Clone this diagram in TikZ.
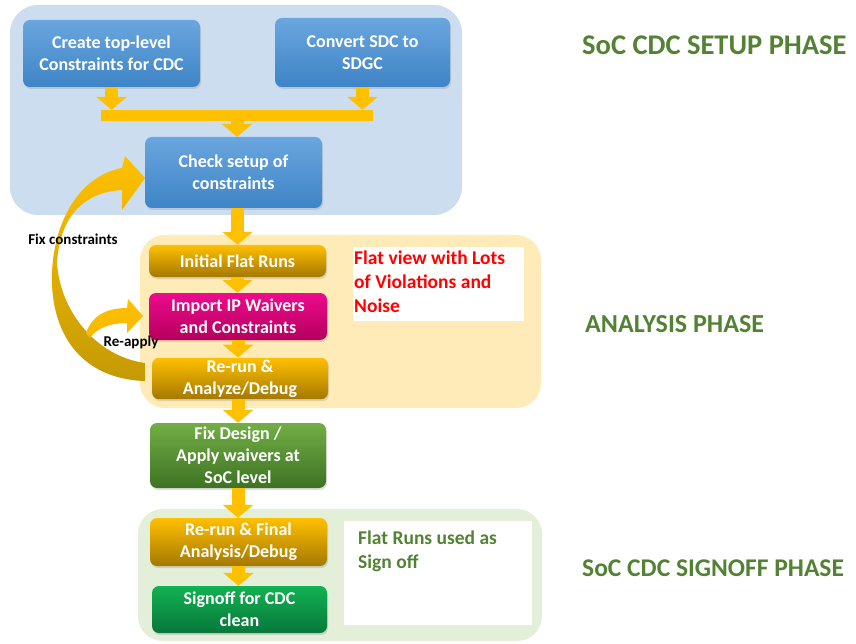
\documentclass[tikz,border=0pt]{standalone}
\usepackage{fontspec}
\setmainfont{Carlito}
\usepackage{xcolor}
\usetikzlibrary{arrows.meta,shadows}

\definecolor{setupbg}{HTML}{CCDDEF}
\definecolor{analysisbg}{HTML}{FFEBB7}
\definecolor{signoffbg}{HTML}{E3EFD8}
\definecolor{blueA}{HTML}{6AA6DF}
\definecolor{blueB}{HTML}{3E84C6}
\definecolor{goldA}{HTML}{FFC000}
\definecolor{goldB}{HTML}{A47800}
\definecolor{pinkA}{HTML}{EE0A8E}
\definecolor{pinkB}{HTML}{B4005C}
\definecolor{leafA}{HTML}{72AE45}
\definecolor{leafB}{HTML}{3D7223}
\definecolor{signA}{HTML}{12B252}
\definecolor{signB}{HTML}{08773A}
\definecolor{arrowgold}{HTML}{FFC000}
\definecolor{loopdark}{HTML}{C49A04}
\definecolor{phasegreen}{HTML}{548235}
\definecolor{notered}{HTML}{FF0000}

\newcommand{\blockfont}{\fontsize{18}{22}\selectfont\bfseries}
\newcommand{\notefont}{\fontsize{19.5}{24}\selectfont\bfseries}
\newcommand{\phasefont}[1]{\fontsize{#1}{32}\selectfont\bfseries}
\newcommand{\loopfont}{\fontsize{15}{17}\selectfont\bfseries}

\begin{document}
\begin{tikzpicture}[x=1pt, y=-1pt,
    block/.style={rounded corners=7pt, minimum width=177pt, align=center, text=white,
                  font=\blockfont, inner sep=2pt,
                  drop shadow={shadow xshift=1pt, shadow yshift=-2pt, opacity=0.25}},
    blueblock/.style={block, top color=blueA, bottom color=blueB},
    goldblock/.style={block, top color=goldA, middle color=goldA, bottom color=goldB},
    pinkblock/.style={block, top color=pinkA, bottom color=pinkB},
    leafblock/.style={block, top color=leafA, bottom color=leafB},
    signblock/.style={block, top color=signA, bottom color=signB},
    flowarrow/.style={draw=arrowgold, line width=13pt, -{Triangle[width=30pt,length=13pt]}},
    notebox/.style={fill=white, anchor=north west, inner sep=0pt},
    notetext/.style={anchor=north west, align=left, font=\notefont, inner sep=0pt},
    phase/.style={anchor=west, text=phasegreen, font=\phasefont{#1}, inner sep=0pt},
    looplabel/.style={font=\loopfont, inner sep=0pt}]
    \useasboundingbox (0,0) rectangle (856,644);

    % phase panels
    \fill[setupbg, rounded corners=28pt] (10,5) rectangle (462,215);
    \fill[analysisbg, rounded corners=25pt] (140,235) rectangle (541,408);
    \fill[signoffbg, rounded corners=25pt] (138,509) rectangle (542,641);

    % loop back arrows
    \shade[top color=arrowgold, bottom color=loopdark]
        (145,381) .. controls (80,379) and (50,332) .. (52,273)
        .. controls (54,220) and (80,176) .. (122,168)
        -- (125,156) -- (145,178) -- (122,210) -- (122,190)
        .. controls (85,192) and (60,215) .. (57,263)
        .. controls (60,310) and (95,356) .. (145,363) -- cycle;
    \shade[top color=arrowgold, bottom color=arrowgold!80!loopdark]
        (86,333) .. controls (92,316) and (106,308) .. (127,308)
        -- (128,299) -- (143,316) -- (127,333) -- (127,323)
        .. controls (110,323) and (97,328) .. (90,338) -- cycle;

    % merge bar
    \node[fill=arrowgold, minimum width=272pt, minimum height=11pt, inner sep=0pt] (merge) at (237,115.5) {};

    % steps
    \node[blueblock, minimum height=67pt] (create) at (111.5,53.5) {Create top-level\\Constraints for CDC};
    \node[blueblock, minimum width=175pt, minimum height=69pt] (convert) at (362.5,52.5) {Convert SDC to\\SDGC};
    \node[blueblock, minimum height=71pt] (check) at (233.5,172.5) {Check setup of\\constraints};
    \node[goldblock, minimum height=32pt] (initial) at (237.5,261) {Initial Flat Runs};
    \node[pinkblock, minimum width=178pt, minimum height=47pt] (import) at (238,316.5) {Import IP Waivers\\and Constraints};
    \node[goldblock, minimum width=176pt, minimum height=41pt] (rerun) at (240,378.5) {Re-run \&\\Analyze/Debug};
    \node[leafblock, minimum width=176pt, minimum height=65pt] (fixdesign) at (238,455.5) {Fix Design /\\Apply waivers at\\SoC level};
    \node[goldblock, minimum height=48pt] (final) at (238.5,542) {Re-run \& Final\\Analysis/Debug};
    \node[signblock, minimum width=175pt, minimum height=47pt] (signoff) at (239.5,609.5) {Signoff for CDC\\clean};

    % flow
    \draw[flowarrow] (create.south) -- (create.south |- merge.north);
    \draw[flowarrow] (convert.south) -- (convert.south |- merge.north);
    \draw[flowarrow] (merge.south) -- (merge.south |- check.north);
    \draw[flowarrow] (initial.north |- check.south) -- (initial.north);
    \draw[flowarrow] (initial.south) -- (initial.south |- import.north);
    \draw[flowarrow] (import.south) -- (import.south |- rerun.north);
    \draw[flowarrow] (fixdesign.north |- rerun.south) -- (fixdesign.north);
    \draw[flowarrow] (fixdesign.south) -- (fixdesign.south |- final.north);
    \draw[flowarrow] (final.south) -- (final.south |- signoff.north);

    % notes
    \node[notebox, minimum width=171pt, minimum height=74pt] (violnote) at (353,247) {};
    \node[notetext, text=notered] (violtext) at ([shift={(1,4)}]violnote.north west) {Flat view with Lots\\of Violations and\\Noise};
    \node[notebox, minimum width=188pt, minimum height=104pt] (signnote) at (344,521) {};
    \node[notetext, text=phasegreen] (signtext) at ([shift={(14,10)}]signnote.north west) {Flat Runs used as\\Sign off};

    % loop labels
    \node[looplabel] (fixlbl) at (73,239) {Fix constraints};
    \node[looplabel] (applylbl) at (131,342) {Re-apply};

    % phases
    \node[phase=28.5] (setupphase) at (582,45) {SoC CDC SETUP PHASE};
    \node[phase=26] (analysisphase) at (585,324) {ANALYSIS PHASE};
    \node[phase=25.5] (signoffphase) at (582,568) {SoC CDC SIGNOFF PHASE};
\end{tikzpicture}
\end{document}
